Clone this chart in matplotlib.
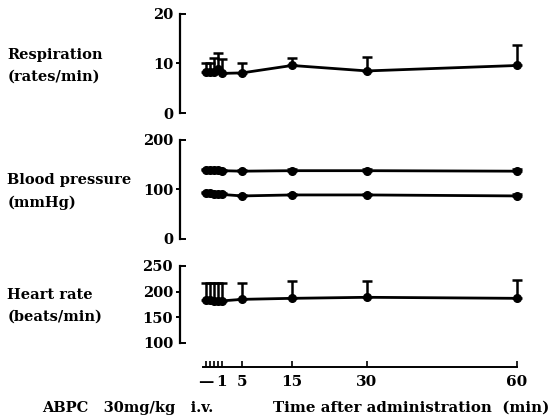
import matplotlib.pyplot as plt
from matplotlib.ticker import FixedLocator, FormatStrFormatter

# time points (min); the pre-dose / early points are spread out before 1 min
time_pos = [-2.2, -1.4, -0.6, 0.2, 1.0, 5, 15, 30, 60]
time_labels = ['\u2014', '', '', '', '1', '5', '15', '30', '60']

resp_mean = [8.2, 8.2, 8.3, 8.8, 8.0, 8.1, 9.6, 8.5, 9.6]
resp_err = [1.8, 1.8, 2.9, 3.4, 3.0, 2.0, 1.6, 2.9, 4.1]

bp_high = [139, 139, 139, 139, 138, 137, 138, 138, 137]
bp_high_err = [2, 2, 2, 2, 2, 2, 3, 3, 5]
bp_low = [92, 92, 91, 91, 90, 87, 89, 89, 87]
bp_low_err = [2, 2, 2, 2, 2, 2, 2, 2, 3]

hr_mean = [184, 183, 182, 182, 182, 185, 187, 189, 187]
hr_err = [32, 33, 34, 34, 34, 32, 34, 32, 36]

plt.rcParams['font.family'] = 'DejaVu Serif'
plt.rcParams['font.weight'] = 'bold'


def setup_panel(ax, lims, major, ends):
    ax.set_xlim(-7.4, 62.6)
    ax.set_ylim(*lims)
    for s in ['top', 'right', 'bottom']:
        ax.spines[s].set_visible(False)
    ax.spines['left'].set_linewidth(1.6)
    ax.yaxis.set_major_locator(FixedLocator(major))
    ax.yaxis.set_minor_locator(FixedLocator(ends))
    ax.yaxis.set_major_formatter(FormatStrFormatter('%d'))
    ax.yaxis.set_minor_formatter(FormatStrFormatter('%d'))
    ax.tick_params(axis='y', which='major', direction='out', length=3, width=1.4,
                   labelsize=10.5, pad=2)
    ax.tick_params(axis='y', which='minor', direction='in', length=4, width=1.4,
                   labelsize=10.5, pad=5)
    ax.tick_params(axis='x', which='both', bottom=False, labelbottom=False)


def draw_series(ax, y, err):
    lower = [0] * len(err)
    ax.errorbar(time_pos, y, yerr=[lower, err], color='black', lw=2, marker='o',
                ms=5.5, elinewidth=1.8, capsize=3.5, capthick=1.8)


fig = plt.figure(figsize=(5.55, 4.19), dpi=100)
left, width = 0.3243, 0.6306
ax1 = fig.add_axes([left, 0.7303, width, 0.2363])
ax2 = fig.add_axes([left, 0.4296, width, 0.2363])
ax3 = fig.add_axes([left, 0.1814, width, 0.1838])

setup_panel(ax1, (0, 20), [10], [0, 20])
draw_series(ax1, resp_mean, resp_err)

setup_panel(ax2, (0, 200), [100], [0, 200])
draw_series(ax2, bp_high, bp_high_err)
draw_series(ax2, bp_low, bp_low_err)

setup_panel(ax3, (100, 250), [150, 200], [100, 250])
draw_series(ax3, hr_mean, hr_err)

# detached time axis under the heart rate panel
ax3.spines['bottom'].set_visible(True)
ax3.spines['bottom'].set_position(('outward', 17))
ax3.spines['bottom'].set_bounds(-2.8, 60)
ax3.spines['bottom'].set_linewidth(1.4)
ax3.set_xticks(time_pos)
ax3.set_xticklabels(time_labels)
ax3.tick_params(axis='x', which='major', bottom=True, labelbottom=True,
                direction='in', length=4, width=1.2, labelsize=11, pad=6)

label_kw = dict(fontsize=10.5, ha='left', va='center')
fig.text(0.013, 1 - 55 / 419, 'Respiration', **label_kw)
fig.text(0.013, 1 - 77 / 419, '(rates/min)', **label_kw)
fig.text(0.013, 1 - 180 / 419, 'Blood pressure', **label_kw)
fig.text(0.013, 1 - 203 / 419, '(mmHg)', **label_kw)
fig.text(0.013, 1 - 295 / 419, 'Heart rate', **label_kw)
fig.text(0.013, 1 - 317 / 419, '(beats/min)', **label_kw)
fig.text(42 / 555, 1 - 408 / 419, 'ABPC   30mg/kg   i.v.', **label_kw)
fig.text(273 / 555, 1 - 408 / 419, 'Time after administration  (min)',
         fontsize=10.8, ha='left', va='center')

fig.savefig('out.png', dpi=100)
